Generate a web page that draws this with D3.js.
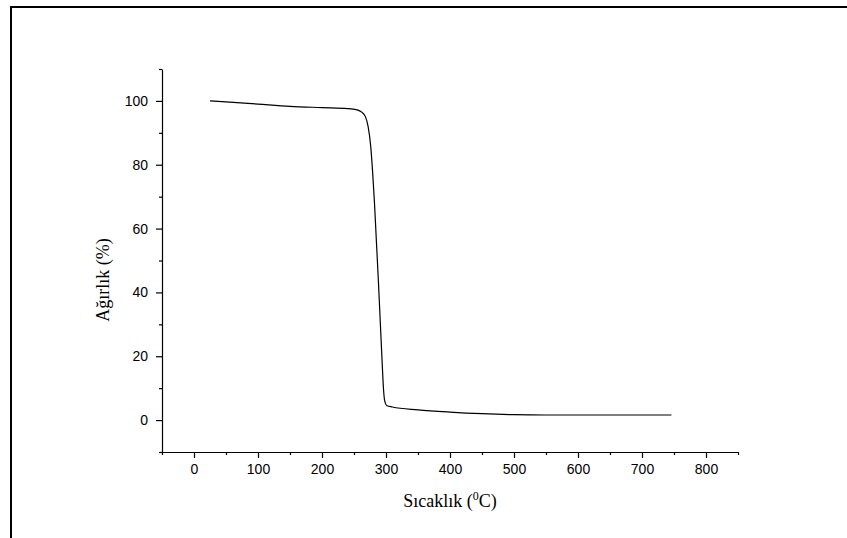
<!DOCTYPE html>
<html>
<head>
<meta charset="utf-8">
<script src="https://cdn.jsdelivr.net/npm/d3@7"></script>
<style>
  body { margin: 0; background: #fff; }
  svg { display: block; }
  .tick text { font-family: "Liberation Sans", Arial, sans-serif; font-size: 14px; fill: #000; }
  .axis path, .axis line { stroke: #000; stroke-width: 1.2; }
  .title { font-family: "Liberation Serif", "Times New Roman", serif; font-size: 18px; fill: #000; }
</style>
</head>
<body>
<div id="chart"></div>
<script>
// TGA curve
const temps   = [25, 50, 100, 150, 200, 240, 255, 262, 268, 272, 276, 279, 282, 285, 288, 291, 294, 296, 298, 301, 310, 350, 400, 450, 500, 550, 600, 650, 700, 746];
const weights = [100, 99.7, 99.0, 98.3, 97.9, 97.6, 97.2, 96.5, 95, 92, 86, 78, 68, 56, 44, 31, 18, 10, 6, 4.6, 4.1, 3.2, 2.5, 2.0, 1.7, 1.6, 1.6, 1.6, 1.6, 1.6];

const xMajor = [0, 100, 200, 300, 400, 500, 600, 700, 800];
const xMinor = [-50, 50, 150, 250, 350, 450, 550, 650, 750, 850];
const yMajor = [0, 20, 40, 60, 80, 100];
const yMinor = [-10, 10, 30, 50, 70, 90, 110];

const width = 847, height = 538;

const svg = d3.select("#chart").append("svg")
    .attr("width", width)
    .attr("height", height);

// outer frame (top and left edges only)
svg.append("path")
    .attr("d", "M11,538V7H847")
    .attr("fill", "none")
    .attr("stroke", "#000")
    .attr("stroke-width", 2);

const x = d3.scaleLinear().domain([-50, 850]).range([162, 738]);
const y = d3.scaleLinear().domain([-10, 110]).range([452, 69]);

// x axis
svg.append("g")
    .attr("class", "axis")
    .attr("transform", "translate(0,452)")
    .call(d3.axisBottom(x).tickValues(xMajor).tickSize(6).tickSizeOuter(0).tickPadding(6));
svg.append("g")
    .attr("class", "axis")
    .attr("transform", "translate(0,452)")
    .call(d3.axisBottom(x).tickValues(xMinor).tickSize(3).tickSizeOuter(0).tickFormat(""))
    .select(".domain").remove();

// y axis
svg.append("g")
    .attr("class", "axis")
    .attr("transform", "translate(162,0)")
    .call(d3.axisLeft(y).tickValues(yMajor).tickSize(6).tickSizeOuter(0).tickPadding(8));
svg.append("g")
    .attr("class", "axis")
    .attr("transform", "translate(162,0)")
    .call(d3.axisLeft(y).tickValues(yMinor).tickSize(3).tickSizeOuter(0).tickFormat(""))
    .select(".domain").remove();

// curve
const line = d3.line()
    .x((d, i) => x(temps[i]))
    .y(d => y(d))
    .curve(d3.curveMonotoneX);

svg.append("path")
    .datum(weights)
    .attr("d", line)
    .attr("fill", "none")
    .attr("stroke", "#000")
    .attr("stroke-width", 1.2);

// axis titles
const xt = svg.append("text")
    .attr("class", "title")
    .attr("x", 450)
    .attr("y", 507)
    .attr("text-anchor", "middle");
xt.append("tspan").text("Sıcaklık (");
xt.append("tspan").attr("dy", -7).attr("font-size", 12).text("0");
xt.append("tspan").attr("dy", 7).text("C)");

svg.append("text")
    .attr("class", "title")
    .attr("transform", "translate(109,280) rotate(-90)")
    .attr("text-anchor", "middle")
    .text("Ağırlık (%)");
</script>
</body>
</html>
